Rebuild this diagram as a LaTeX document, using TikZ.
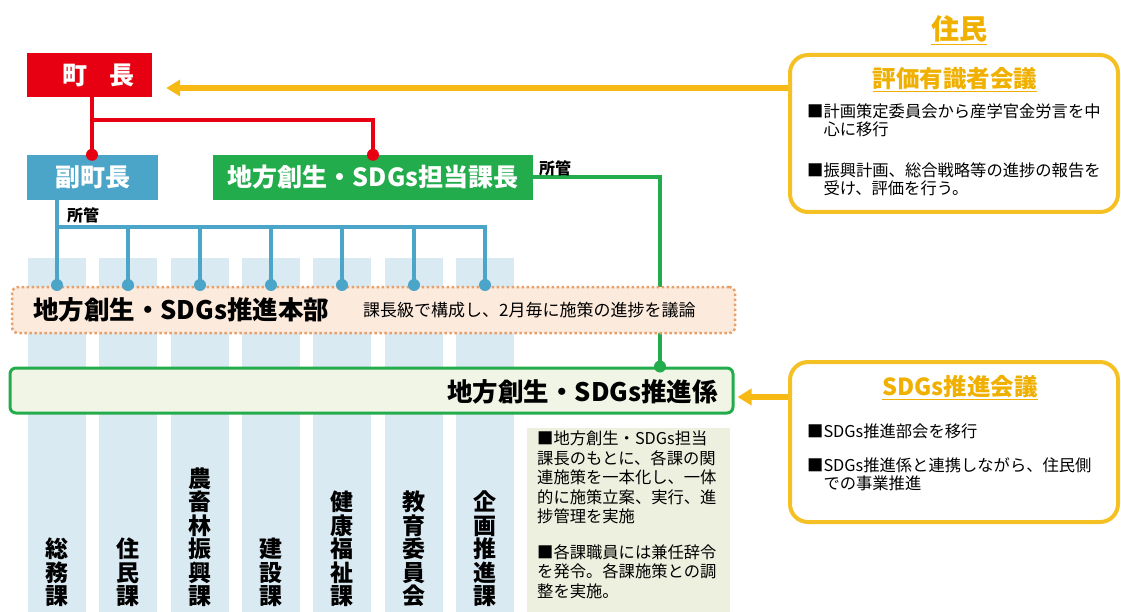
\documentclass[tikz,border=0pt]{standalone}
\usepackage{fontspec}
\setmainfont{Noto Sans CJK JP}
\usetikzlibrary{arrows.meta}
\definecolor{cRed}{HTML}{E60012}
\definecolor{cBlue}{HTML}{4AA5C8}
\definecolor{cGreen}{HTML}{22AC4C}
\definecolor{cYellow}{HTML}{F7B914}
\definecolor{cGold}{HTML}{F0B000}
\definecolor{cCol}{HTML}{DAEAF3}
\definecolor{cPeach}{HTML}{FCEADD}
\definecolor{cPeachLine}{HTML}{E8A06A}
\definecolor{cKakari}{HTML}{F1F5E6}
\definecolor{cNote}{HTML}{EDF0DF}
\definecolor{cBoxLine}{HTML}{F5C024}
\tikzset{
  headbox/.style={inner sep=0pt, text=white, font=\fontsize{25}{27}\selectfont\bfseries},
  bigtext/.style={inner sep=0pt, font=\fontsize{25.5}{27}\selectfont\bfseries},
  colbox/.style={fill=cCol, minimum width=58, minimum height=354, inner sep=0pt},
  collabel/.style={anchor=south, align=center, inner sep=0pt, font=\fontsize{23}{23.5}\selectfont\bfseries},
  rline/.style={cRed, line width=4pt},
  bline/.style={cBlue, line width=4pt},
  gline/.style={cGreen, line width=4pt},
  rdot/.style={fill=cRed, draw=none},
  bdot/.style={fill=cBlue, draw=none},
  gdot/.style={fill=cGreen, draw=none},
  yarrow/.style={cYellow, line width=6pt, -{Triangle[length=14pt,width=16pt]}},
  rbox/.style={draw=cBoxLine, line width=4pt, rounded corners=18pt, fill=white, inner sep=0pt},
  bodytext/.style={anchor=north west, align=left, inner sep=0pt, font=\fontsize{16.3}{17.5}\selectfont},
  smalllabel/.style={inner sep=0pt, font=\fontsize{16}{18}\selectfont\bfseries},
  goldtitle/.style={inner sep=0pt, text=cGold, font=\fontsize{23.5}{26}\selectfont\bfseries},
}
\begin{document}
\begin{tikzpicture}[x=1pt,y=-1pt]
\useasboundingbox (0,0) rectangle (1121,612);

% columns
\foreach \i/\cx in {1/57,2/128,3/200,4/271,5/342,6/414,7/485}{
  \node[colbox] (c\i) at (\cx,435) {};
}

% header boxes
\node[headbox, fill=cRed, minimum width=125, minimum height=44] (chocho) at (89.5,75) {\hspace*{18pt}町\hspace{0.9em}長};
\node[headbox, fill=cBlue, minimum width=131, minimum height=45] (fuku) at (92.5,177.5) {副町長};
\node[headbox, fill=cGreen, minimum width=320, minimum height=45] (kacho) at (373,177.5) {地方創生・SDGs担当課長};

% green connector
\coordinate (gcorner) at (660,177.5);
\draw[gline] (kacho.east) -- (gcorner) -- (gcorner |- 368,368);

% red connectors
\coordinate (rsplit) at (92,120);
\draw[rline] (chocho.south -| rsplit) -- (fuku.north -| rsplit);
\draw[rline] (rsplit) -| (kacho.north);

% blue connectors
\coordinate (bbar) at (57,227);
\draw[bline] (fuku.south -| bbar) -- (57,287);
\draw[bline] (bbar) -- (487,227);
\foreach \i in {2,...,7}{
  \draw[bline] (c\i.center |- bbar) -- (c\i.center |- 0,287);
}

% boxes
\node[draw=cPeachLine, fill=cPeach, line width=2.5pt, dash pattern=on 2.5pt off 2.5pt, rounded corners=6pt, minimum width=723, minimum height=46, inner sep=0pt] (honbu) at (373.5,310) {};
\node[bigtext, anchor=west] (honbuT) at (33,310) {地方創生・SDGs推進本部};
\node[anchor=west, inner sep=0pt, font=\fontsize{17}{19}\selectfont] (honbuN) at (363,310) {課長級で構成し、2月毎に施策の進捗を議論};

\node[draw=cGreen, fill=cKakari, line width=3pt, rounded corners=6pt, minimum width=723, minimum height=45, inner sep=0pt] (kakari) at (371.5,390.5) {};
\node[bigtext, anchor=east] (kakariT) at (718,392) {地方創生・SDGs推進係};

% dots
\fill[rdot] (fuku.north -| rsplit) circle (6);
\fill[rdot] (kacho.north) circle (6);
\foreach \i in {1,...,7}{
  \fill[bdot] (c\i.center |- 0,285) circle (6);
}
\fill[gdot] (kakari.north -| gcorner) circle (6);

% labels 所管
\node[smalllabel, anchor=south west] (shokan1) at (539,176) {所管};
\node[smalllabel, anchor=south west] (shokan2) at (67,223) {所管};

% column labels
\node[collabel] (l1) at (57,607) {総\\務\\課};
\node[collabel] (l2) at (128,607) {住\\民\\課};
\node[collabel] (l3) at (200,607) {農\\畜\\林\\振\\興\\課};
\node[collabel] (l4) at (271,607) {建\\設\\課};
\node[collabel] (l5) at (342,607) {健\\康\\福\\祉\\課};
\node[collabel] (l6) at (414,607) {教\\育\\委\\員\\会};
\node[collabel] (l7) at (485,607) {企\\画\\推\\進\\課};

% note box
\node[fill=cNote, minimum width=203, minimum height=184, inner sep=0pt] (note) at (628.5,520) {};
\node[anchor=north west, align=left, inner sep=0pt, font=\fontsize{16.3}{19.5}\selectfont] (noteT) at (537,431) {■地方創生・SDGs担当\\課長のもとに、各課の関\\連施策を一本化し、一体\\的に施策立案、実行、進\\捗管理を実施\\[16pt]■各課職員には兼任辞令\\を発令。各課施策との調\\整を実施。};

% right side
\node[goldtitle, font=\fontsize{28}{30}\selectfont\bfseries] (jumin) at (959,30) {\underline{住民}};
\node[rbox, minimum width=328, minimum height=157] (hyoka) at (954,133.5) {};
\node[goldtitle] (hyokaT) at (955,80) {\underline{評価有識者会議}};
\node[bodytext] (hyokaB1) at (807,104) {■計画策定委員会から産学官金労言を中\\\hspace*{1em}心に移行};
\node[bodytext] (hyokaB2) at (807,163) {■振興計画、総合戦略等の進捗の報告を\\\hspace*{1em}受け、評価を行う。};

\node[rbox, minimum width=328, minimum height=160] (sdgs) at (954,442) {};
\node[goldtitle] (sdgsT) at (960,388) {\underline{SDGs推進会議}};
\node[bodytext] (sdgsB1) at (807,424) {■SDGs推進部会を移行};
\node[bodytext] (sdgsB2) at (807,458) {■SDGs推進係と連携しながら、住民側\\\hspace*{1em}での事業推進};

% arrows
\draw[yarrow] (hyoka.west |- 0,88) -- ([xshift=14pt]chocho.east |- 0,88);
\draw[yarrow] (sdgs.west |- 0,397) -- ([xshift=3pt]kakari.east |- 0,397);
\end{tikzpicture}
\end{document}
